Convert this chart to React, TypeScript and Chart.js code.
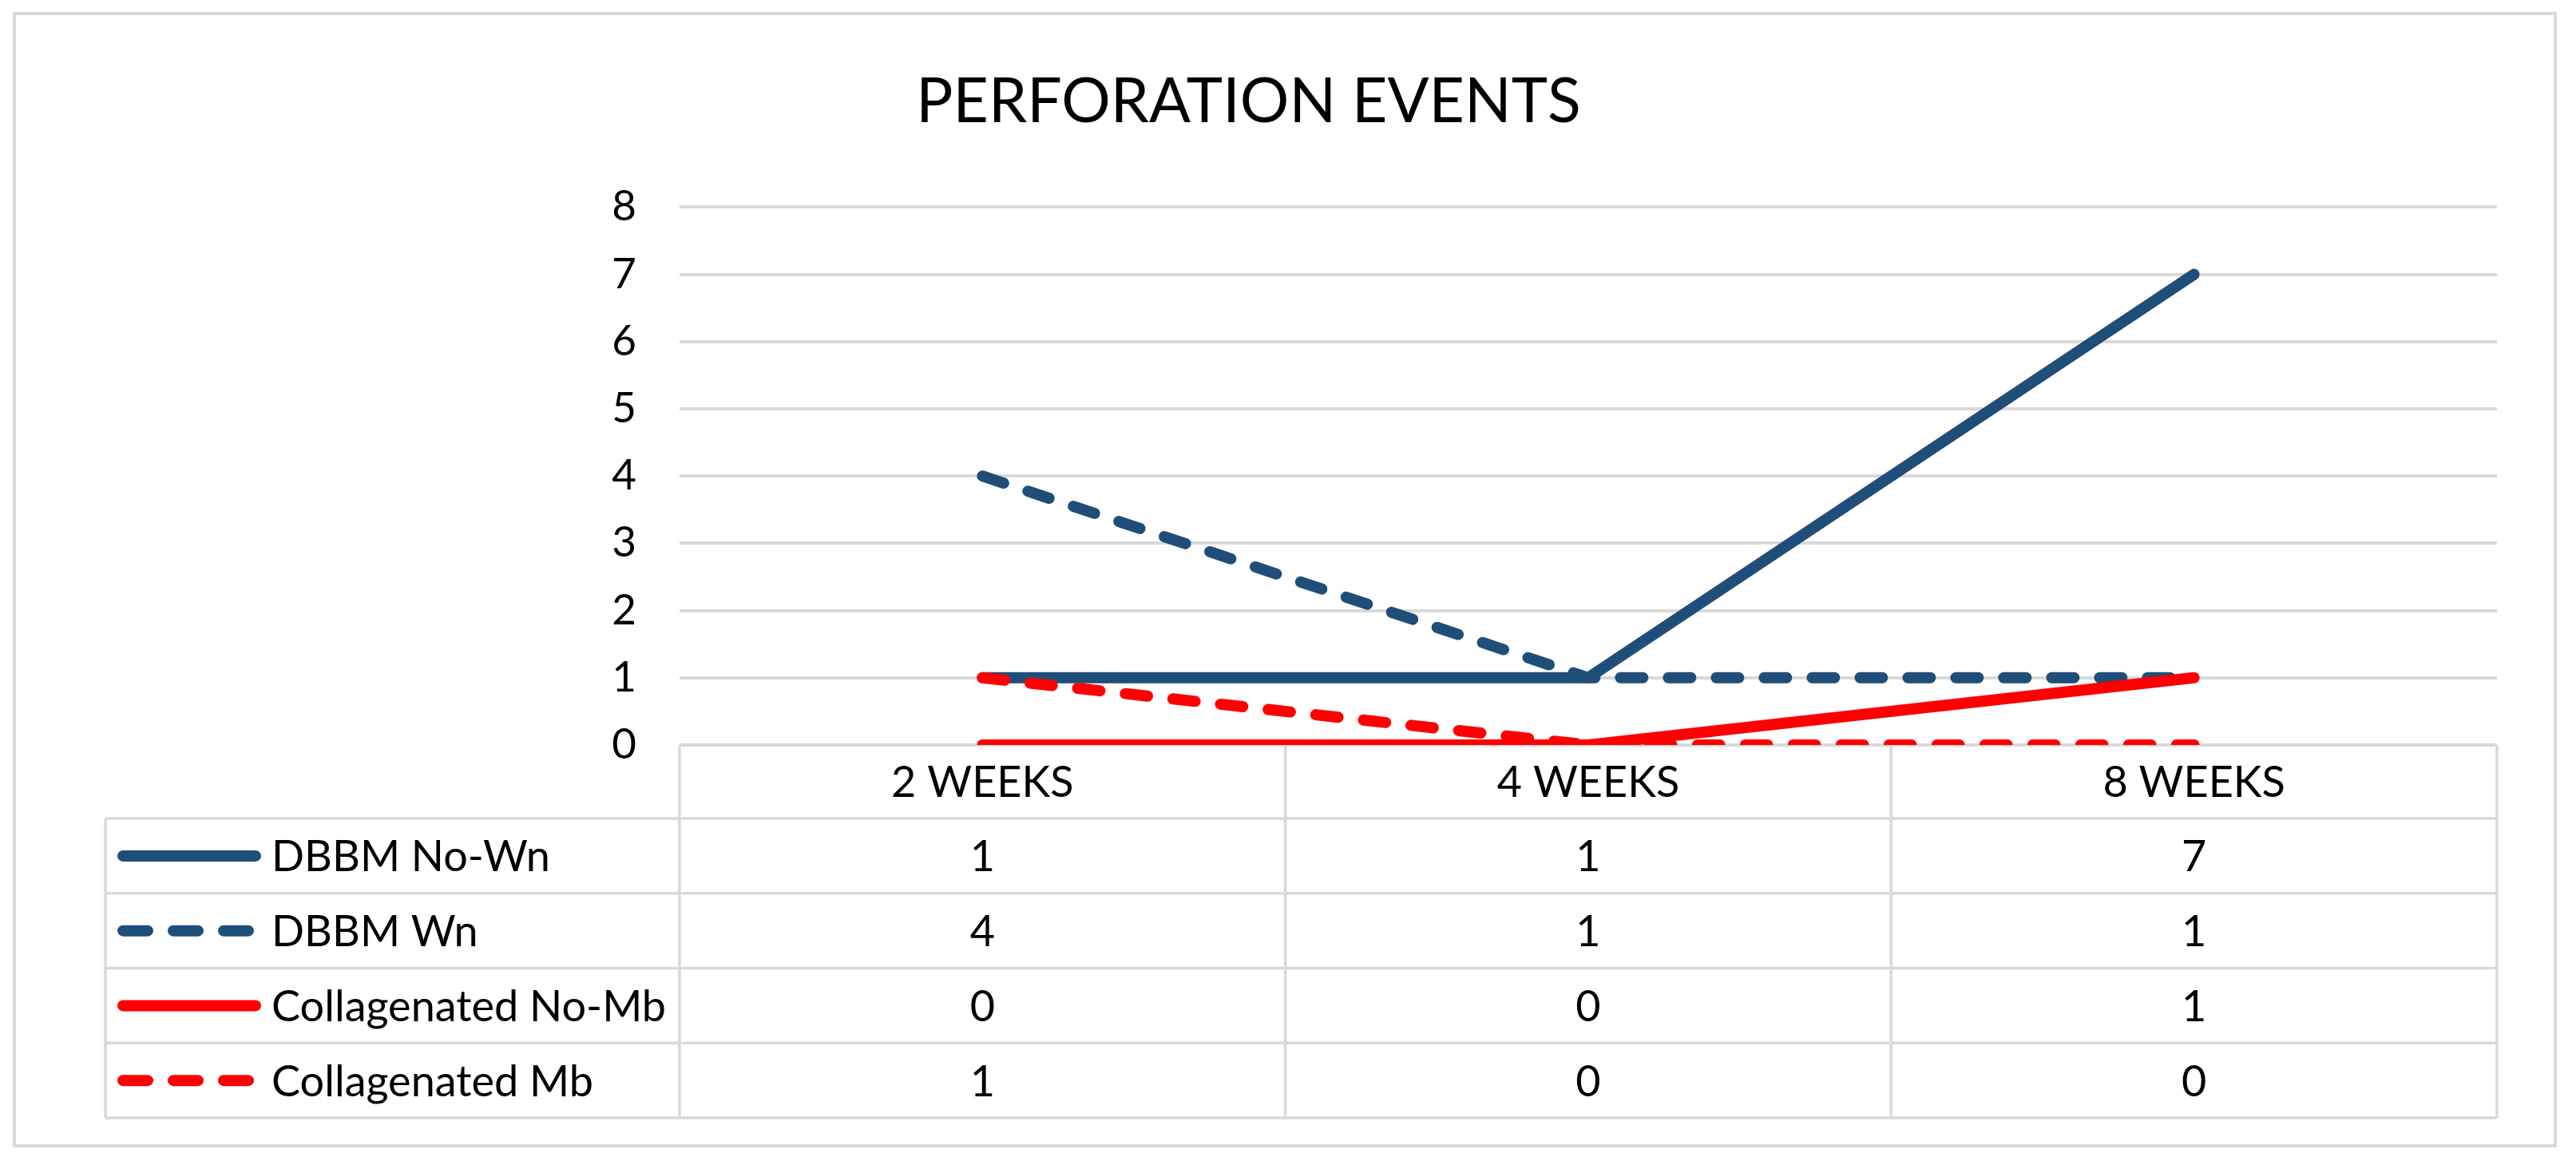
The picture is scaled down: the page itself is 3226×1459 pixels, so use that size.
import { useEffect, useRef } from "react";
import { Chart, registerables } from "chart.js";

Chart.register(...registerables);

// ---- data ----
const TITLE = "PERFORATION EVENTS";
const categories = ["2 WEEKS", "4 WEEKS", "8 WEEKS"];
const seriesNames = ["DBBM No-Wn", "DBBM Wn", "Collagenated No-Mb", "Collagenated Mb"];
const dbbmNoWn = [1, 1, 7];
const dbbmWn = [4, 1, 1];
const collagenatedNoMb = [0, 0, 1];
const collagenatedMb = [1, 0, 0];
const yMin = 0;
const yMax = 8;
const yStep = 1;

// ---- styles ----
const W = 3226;
const H = 1459;
const BLUE = "#1f4e79";
const RED = "#ff0000";
const GRID = "#d9d9d9";
const TEXT = "#000000";
const FONT = "Lato, 'Open Sans', sans-serif";
const TEXT_SIZE = 54;
const TICK_SIZE = 53;
const LINE_W = 14;
const CHART_DASH = [28, 32];
const LEGEND_DASH = [31, 32];

const seriesData = [dbbmNoWn, dbbmWn, collagenatedNoMb, collagenatedMb];
const seriesColors = [BLUE, BLUE, RED, RED];
const seriesDashed = [false, true, false, true];

const backgroundPlugin = {
  id: "bgBorder",
  beforeDraw(chart: any) {
    const ctx = chart.ctx;
    ctx.save();
    ctx.fillStyle = "#ffffff";
    ctx.fillRect(0, 0, W, H);
    ctx.strokeStyle = GRID;
    ctx.lineWidth = 4;
    ctx.strokeRect(18, 17, 3182, 1418);
    ctx.restore();
  },
};

const tablePlugin = {
  id: "dataTable",
  afterDraw(chart: any) {
    const ctx = chart.ctx;
    const area = chart.chartArea;
    const xs = chart.scales.x;
    const n = categories.length;
    const colW = (area.right - area.left) / n;
    const top = area.bottom;
    const headerH = 92;
    const rowH = 93.75;
    const legendLeft = 132;
    const rows = seriesNames.length;
    const bottom = top + headerH + rowH * rows;

    ctx.save();
    ctx.strokeStyle = GRID;
    ctx.lineWidth = 3.5;
    ctx.lineCap = "butt";
    ctx.setLineDash([]);
    for (let r = 0; r <= rows; r++) {
      const y = top + headerH + r * rowH;
      ctx.beginPath();
      ctx.moveTo(legendLeft, y);
      ctx.lineTo(area.right, y);
      ctx.stroke();
    }
    for (let c = 0; c <= n; c++) {
      const xx = area.left + c * colW;
      ctx.beginPath();
      ctx.moveTo(xx, top);
      ctx.lineTo(xx, bottom);
      ctx.stroke();
    }
    ctx.beginPath();
    ctx.moveTo(legendLeft, top + headerH);
    ctx.lineTo(legendLeft, bottom);
    ctx.stroke();

    ctx.fillStyle = TEXT;
    ctx.font = `${TEXT_SIZE}px ${FONT}`;
    ctx.textAlign = "center";
    ctx.textBaseline = "middle";
    categories.forEach((cat, i) => {
      ctx.fillText(cat, xs.getPixelForValue(i), top + headerH / 2 + 2);
    });
    seriesData.forEach((arr, r) => {
      const cy = top + headerH + r * rowH + rowH / 2;
      arr.forEach((v, i) => {
        ctx.fillText(String(v), xs.getPixelForValue(i), cy + 2);
      });
      ctx.save();
      ctx.strokeStyle = seriesColors[r];
      ctx.lineWidth = LINE_W;
      ctx.lineCap = "round";
      ctx.setLineDash(seriesDashed[r] ? LEGEND_DASH : []);
      ctx.beginPath();
      ctx.moveTo(154, cy);
      ctx.lineTo(seriesDashed[r] ? 311 : 320, cy);
      ctx.stroke();
      ctx.restore();
      ctx.textAlign = "left";
      ctx.fillText(seriesNames[r], 340, cy + 2);
      ctx.textAlign = "center";
    });
    ctx.restore();
  },
};

export default function App() {
  const ref = useRef<HTMLCanvasElement | null>(null);

  useEffect(() => {
    document.body.style.margin = "0";
    const canvas = ref.current;
    if (!canvas) return;
    const chart = new Chart(canvas, {
      type: "line",
      data: {
        labels: categories,
        datasets: seriesNames.map((name, i) => ({
          label: name,
          data: seriesData[i],
          borderColor: seriesColors[i],
          backgroundColor: seriesColors[i],
          borderWidth: LINE_W,
          borderDash: seriesDashed[i] ? CHART_DASH : [],
          borderCapStyle: "round",
          borderJoinStyle: "round",
          pointRadius: 0,
          pointHoverRadius: 0,
          tension: 0,
          fill: false,
          order: seriesNames.length - 1 - i,
        })),
      },
      options: {
        responsive: false,
        animation: false,
        devicePixelRatio: 1,
        layout: { padding: { left: 0, right: 99, top: 0, bottom: 526 } },
        plugins: {
          legend: { display: false },
          tooltip: { enabled: false },
          title: {
            display: true,
            text: TITLE,
            color: TEXT,
            font: { family: FONT, size: 77, weight: "normal" },
            padding: { top: 82, bottom: 85 },
          },
        },
        scales: {
          x: {
            type: "category",
            display: false,
            offset: true,
          },
          y: {
            min: yMin,
            max: yMax,
            afterFit(scale: any) {
              scale.width = 851;
            },
            border: { display: false },
            grid: { color: GRID, lineWidth: 4, drawTicks: false },
            ticks: {
              stepSize: yStep,
              padding: 54,
              color: TEXT,
              font: { family: FONT, size: TICK_SIZE },
            },
          },
        },
      } as any,
      plugins: [backgroundPlugin, tablePlugin],
    });
    return () => chart.destroy();
  }, []);

  return (
    <div style={{ width: W, height: H }}>
      <canvas ref={ref} width={W} height={H} style={{ display: "block", width: W, height: H }} />
    </div>
  );
}
